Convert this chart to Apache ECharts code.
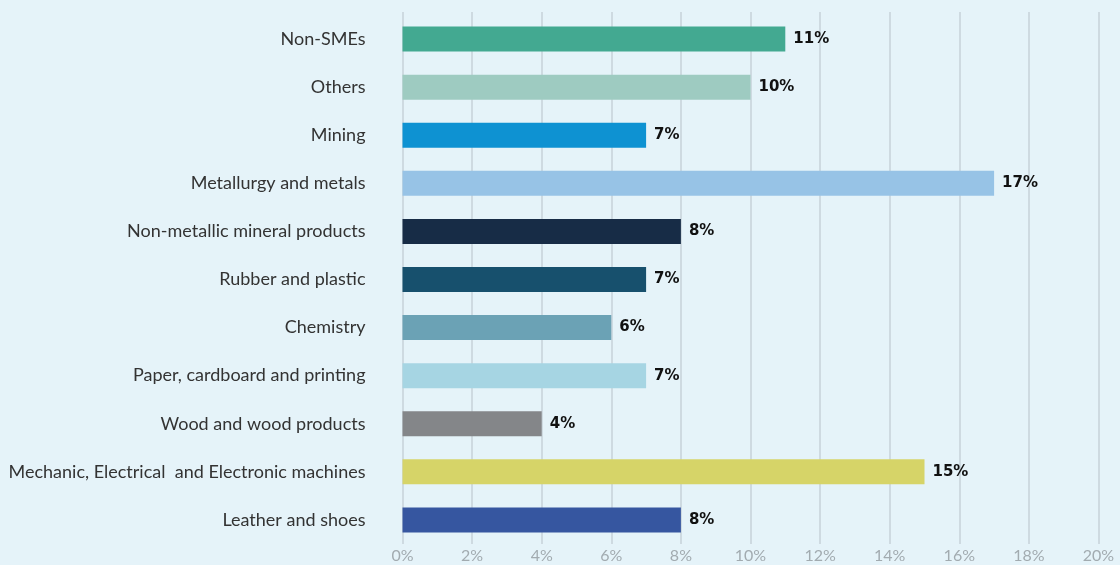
<!DOCTYPE html>
<html>
<head>
<meta charset="utf-8">
<script src="https://cdn.jsdelivr.net/npm/echarts@6/dist/echarts.min.js"></script>
<style>
  html, body { margin: 0; padding: 0; background: #e5f3f9; }
  #chart { width: 1120px; height: 565px; }
</style>
</head>
<body>
<div id="chart"></div>
<script>
// Sector shares, listed bottom-to-top as the category axis draws them
const categories = [
  'Leather and shoes',
  'Mechanic, Electrical  and Electronic machines',
  'Wood and wood products',
  'Paper, cardboard and printing',
  'Chemistry',
  'Rubber and plastic',
  'Non-metallic mineral products',
  'Metallurgy and metals',
  'Mining',
  'Others',
  'Non-SMEs'
];
const shares = [8, 15, 4, 7, 6, 7, 8, 17, 7, 10, 11];
const barColors = [
  '#3656a0', '#d6d468', '#848689', '#a6d5e3', '#6ba2b5',
  '#17506d', '#172c46', '#97c3e6', '#0e92d2', '#9ecbc1', '#43a991'
];
const xTicks = { min: 0, max: 20, step: 2 };

const chart = echarts.init(document.getElementById('chart'));
chart.setOption({
  backgroundColor: '#e5f3f9',
  animation: false,
  grid: [
    // bars
    { left: 402.5, right: 21.5, top: 15, bottom: 21 },
    // gridlines and percentage ticks (slightly taller than the bar area)
    { left: 402.5, right: 21.5, top: 12, bottom: 21 }
  ],
  xAxis: [
    {
      gridIndex: 0,
      type: 'value',
      min: xTicks.min,
      max: xTicks.max,
      interval: xTicks.step,
      show: false
    },
    {
      gridIndex: 1,
      type: 'value',
      min: xTicks.min,
      max: xTicks.max,
      interval: xTicks.step,
      axisLine: { show: false },
      axisTick: { show: false },
      splitLine: { show: true, lineStyle: { color: '#c6d2d8', width: 1.5 } },
      axisLabel: {
        formatter: v => v + '%',
        color: '#a2abb0',
        fontFamily: 'Lato',
        fontSize: 16,
        margin: 4
      }
    }
  ],
  yAxis: [
    {
      gridIndex: 0,
      type: 'category',
      data: categories,
      axisLine: { show: false },
      axisTick: { show: false },
      axisLabel: {
        color: '#333333',
        fontFamily: 'Lato',
        fontSize: 18,
        margin: 37
      }
    },
    {
      gridIndex: 1,
      type: 'value',
      min: 0,
      max: 1,
      show: false
    }
  ],
  series: [{
    type: 'bar',
    xAxisIndex: 0,
    yAxisIndex: 0,
    barWidth: 25,
    z: 3,
    data: shares.map((v, i) => ({ value: v, itemStyle: { color: barColors[i] } })),
    label: {
      show: true,
      position: 'right',
      distance: 8,
      formatter: p => p.value + '%',
      color: '#111111',
      fontFamily: 'DejaVu Sans',
      fontWeight: 'bold',
      fontSize: 15
    }
  }]
});
</script>
</body>
</html>
